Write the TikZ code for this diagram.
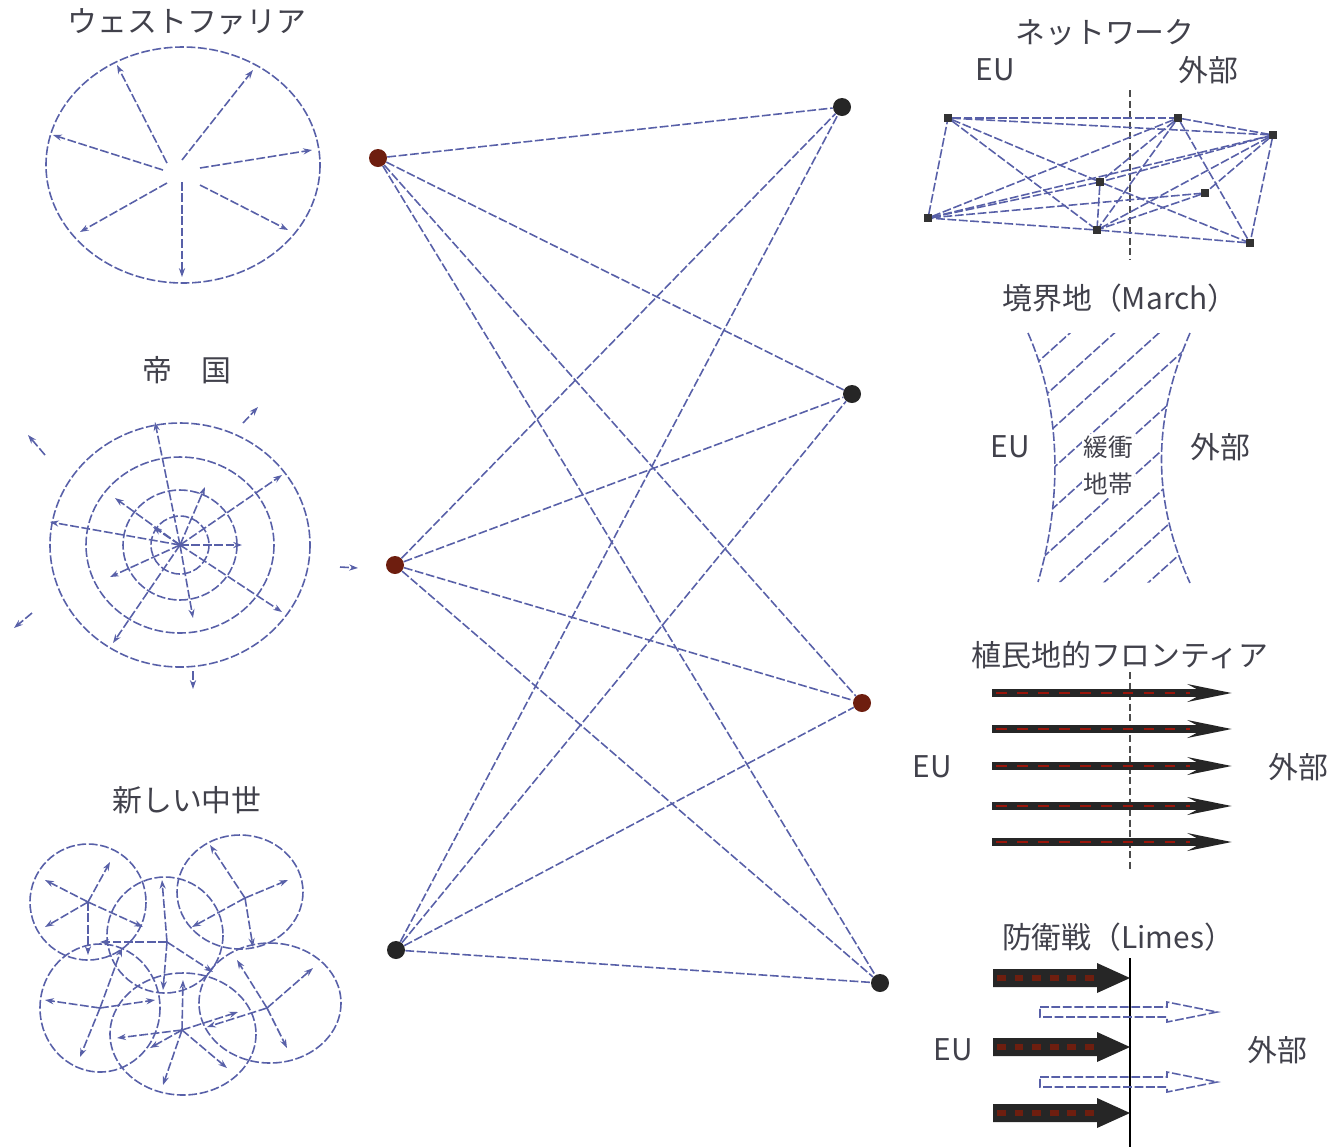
\documentclass[tikz,border=0pt]{standalone}
\usepackage{fontspec}
\setmainfont{Noto Sans CJK JP}
\usetikzlibrary{arrows.meta}

\definecolor{lineblue}{RGB}{88,96,168}
\definecolor{nodered}{RGB}{110,30,15}
\definecolor{textgray}{RGB}{65,65,75}

\begin{document}
\begin{tikzpicture}[
    x=0.02cm, y=-0.02cm,
    dline/.style={lineblue, line width=0.9pt, dash pattern=on 5pt off 1.5pt},
    ray/.style={dline, -{Stealth[length=5pt,width=3.5pt]}},
    lbl/.style={text=textgray, font=\fontsize{17}{20}\selectfont, inner sep=0pt},
    vtx/.style={circle, fill=black!85, inner sep=0pt, minimum size=0.36cm},
    rvtx/.style={vtx, fill=nodered},
    net/.style={rectangle, fill=black!80, inner sep=0pt, minimum size=0.15cm},
    midline/.style={black!70, line width=0.7pt, dash pattern=on 4pt off 2pt}
]
\useasboundingbox (0,0) rectangle (1331,1147);

% Westphalia
\node[lbl] (west) at (187,22) {ウェストファリア};
\draw[dline] (183,165) ellipse [x radius=137, y radius=118];
\foreach \sx/\sy/\tx/\ty in {167/163/117/65, 182/160/253/70, 163/170/53/135,
    200/168/312/150, 167/183/80/232, 200/185/288/230, 182/182/182/277}
    \draw[ray] (\sx,\sy) -- (\tx,\ty);

% empire
\node[lbl] (empire) at (187,370) {帝　国};
\foreach \rx/\ry in {29/29, 57/55, 94/88, 130/122}
    \draw[dline] (180,545) ellipse [x radius=\rx, y radius=\ry];
\foreach \tx/\ty in {155/422, 282/475, 50/522, 282/612, 113/643, 193/618,
    205/487, 115/498, 242/545, 110/577, 153/527}
    \draw[ray] (180,545) -- (\tx,\ty);
\foreach \sx/\sy/\tx/\ty in {243/423/258/407, 45/455/28/435, 340/567/358/568,
    32/613/14/628, 193/671/193/689}
    \draw[ray] (\sx,\sy) -- (\tx,\ty);

% new middle ages
\node[lbl] (medieval) at (187,800) {新しい中世};
\foreach \cx/\cy/\rx/\ry in {88/902/58/58, 240/892/63/57, 165/935/58/58,
    100/1008/60/64, 183/1034/73/61, 270/1003/71/60}
    \draw[dline] (\cx,\cy) ellipse [x radius=\rx, y radius=\ry];
\foreach \cx/\cy/\tx/\ty in {88/902/110/862, 88/902/45/880, 88/902/45/927,
    88/902/143/927, 88/902/88/955,
    245/898/210/845, 245/898/288/880, 245/898/192/927, 245/898/253/947,
    167/942/162/880, 167/942/100/942, 167/942/163/990, 167/942/213/972,
    100/1008/122/948, 100/1008/45/1000, 100/1008/155/1000, 100/1008/80/1057,
    182/1030/183/980, 182/1030/117/1038, 182/1030/163/1085, 182/1030/227/1068,
    182/1030/238/1012, 182/1030/150/1048,
    267/1008/237/960, 267/1008/313/968, 267/1008/287/1048, 267/1008/207/1027}
    \draw[ray] (\cx,\cy) -- (\tx,\ty);

% bipartite graph
\node[rvtx] (l1) at (378,158) {};
\node[rvtx] (l2) at (395,565) {};
\node[vtx] (l3) at (396,950) {};
\node[vtx] (r1) at (842,107) {};
\node[vtx] (r2) at (852,394) {};
\node[rvtx] (r3) at (862,703) {};
\node[vtx] (r4) at (880,983) {};
\foreach \a in {l1,l2,l3}
    \foreach \b in {r1,r2,r3,r4}
        \draw[dline] (\a) -- (\b);

% network
\node[lbl] (network) at (1105,33) {ネットワーク};
\node[lbl] (eu1) at (995,70) {EU};
\node[lbl] (out1) at (1208,70) {外部};
\draw[midline] (1130,90) -- (1130,260);
\node[net] (na) at (948,118) {};
\node[net] (nb) at (1178,118) {};
\node[net] (nc) at (1273,135) {};
\node[net] (nd) at (1100,182) {};
\node[net] (ne) at (1205,193) {};
\node[net] (nf) at (928,218) {};
\node[net] (ng) at (1097,230) {};
\node[net] (nh) at (1250,243) {};
\foreach \a/\b in {na/nb, nb/nc, nc/nh, nh/ng, ng/nf, nf/na, na/nd, nd/nh,
    na/ng, na/nc, nf/nb, nf/nc, nf/ne, nb/nd, nb/nh, nb/ng, nc/nd, nc/ne,
    nc/ng, nd/ng, ne/ng, nf/nd}
    \draw[dline] (\a) -- (\b);

% march
\node[lbl] (march) at (1120,298) {境界地（March）};
\draw[dline] (1028,333) .. controls (1062,410) and (1062,500) .. (1038,582);
\draw[dline] (1190,333) .. controls (1152,420) and (1152,500) .. (1190,583);
\begin{scope}
    \clip (1028,333) .. controls (1062,410) and (1062,500) .. (1038,582)
        -- (1190,583) .. controls (1152,500) and (1152,420) .. (1190,333) -- cycle;
    \foreach \k in {0,...,9}
        \draw[dline] (1000,396+40*\k) -- +(250,-225);
\end{scope}
\node[lbl, font=\fontsize{14}{21}\selectfont, fill=white, inner sep=1pt,
    align=center] (buffer) at (1108,466) {緩衝\\地帯};
\node[lbl] (eu2) at (1010,447) {EU};
\node[lbl] (out2) at (1220,447) {外部};

% colonial frontier
\node[lbl] (colony) at (1120,655) {植民地的フロンティア};
\draw[midline] (1130,672) -- (1130,870);
\foreach \y in {693,729,766,806,842} {
    \draw[black!85, line width=4.5pt, -{Stealth[length=24pt,width=9pt]}]
        (992,\y) -- (1233,\y);
    \draw[nodered!70!red, line width=1.5pt, dash pattern=on 6pt off 6pt]
        (996,\y) -- (1190,\y);
}
\node[lbl] (eu3) at (932,767) {EU};
\node[lbl, anchor=east] (out3) at (1329,767) {外部};

% limes
\node[lbl] (limes) at (1118,937) {防衛戦（Limes）};
\draw[black, line width=0.9pt] (1130,958) -- (1130,1147);
\foreach \y in {978,1047,1113} {
    \fill[black!85] (993,\y-9) -- (1097,\y-9) -- (1097,\y-15) -- (1130,\y)
        -- (1097,\y+15) -- (1097,\y+9) -- (993,\y+9) -- cycle;
    \draw[nodered, line width=3pt, dash pattern=on 5pt off 5pt]
        (997,\y) -- (1100,\y);
}
\foreach \y in {1012,1082}
    \draw[dline] (1040,\y-5) -- (1167,\y-5) -- (1167,\y-10) -- (1217,\y)
        -- (1167,\y+10) -- (1167,\y+5) -- (1040,\y+5) -- cycle;
\node[lbl] (eu4) at (953,1050) {EU};
\node[lbl] (out4) at (1277,1050) {外部};
\end{tikzpicture}
\end{document}
